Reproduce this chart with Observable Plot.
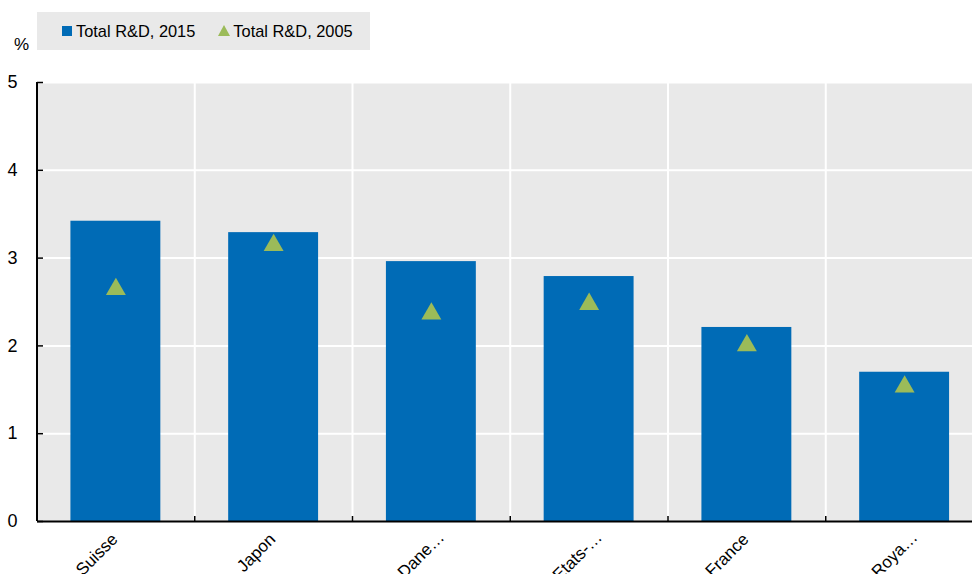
<!DOCTYPE html>
<html>
<head>
<meta charset="utf-8">
<script src="https://cdn.jsdelivr.net/npm/d3@7"></script>
<script src="https://cdn.jsdelivr.net/npm/@observablehq/plot@0.6"></script>
<style>
  html, body { margin: 0; padding: 0; background: #fff; }
  body { font-family: "Liberation Sans", Arial, sans-serif; }
  #wrap { position: relative; width: 972px; height: 574px; overflow: hidden; }
  #legend { position: absolute; left: 37px; top: 12px; width: 333px; height: 38px; background: #e9e9e9;
            display: flex; align-items: center; font-size: 16.4px; color: #000; }
  .item { display: flex; align-items: center; }
  .sq { width: 10px; height: 10px; background: #006bb6; margin-left: 25px; margin-right: 4px; }
  .tri { width: 0; height: 0; border-left: 6px solid transparent; border-right: 6px solid transparent;
         border-bottom: 11px solid #9bbb59; margin-left: 23px; margin-right: 3px; margin-top: -2px; }
  #pct { position: absolute; left: 14px; top: 35px; font-size: 17px; }
</style>
</head>
<body>
<div id="wrap">
  <div id="chart"></div>
  <div id="legend">
    <div class="item"><div class="sq"></div><span>Total R&amp;D, 2015</span></div>
    <div class="item"><div class="tri"></div><span>Total R&amp;D, 2005</span></div>
  </div>
  <div id="pct">%</div>
</div>
<script>
const countries = ["Suisse", "Japon", "Dane…", "Etats-…", "France", "Roya…"];
const rd2015 = [3.42, 3.29, 2.96, 2.79, 2.21, 1.70];
const rd2005 = [2.68, 3.18, 2.40, 2.51, 2.04, 1.57];
const yTicks = [0, 1, 2, 3, 4, 5];

const data = countries.map((c, i) => ({country: c, v2015: rd2015[i], v2005: rd2005[i]}));
const fullLabels = countries.filter(c => !c.endsWith("…"));
const truncLabels = countries.filter(c => c.endsWith("…"));

const W = 972, H = 574, mL = 37, mR = 0, mT = 82, mB = 53;
const xLeft = 36.5, xRight = 983; // category bands run past the right edge, as in the reference
const step = (xRight - xLeft) / countries.length;
const plotH = H - mT - mB;
const plotW = W - mL - mR;

const chart = Plot.plot({
  width: W, height: H,
  marginLeft: mL, marginRight: mR, marginTop: mT, marginBottom: mB,
  style: {fontFamily: "'Liberation Sans', Arial, sans-serif", fontSize: "16px", color: "#000", background: "transparent", overflow: "hidden"},
  x: {domain: countries, range: [xLeft, xRight], round: false, paddingInner: 0.43, paddingOuter: 0.215, label: null},
  y: {domain: [0, 5], label: null},
  marks: [
    Plot.frame({fill: "#e9e9e9", stroke: null}),
    Plot.gridY(yTicks.slice(1), {stroke: "#fff", strokeOpacity: 1, strokeWidth: 2}),
    Plot.ruleX(countries.slice(1), {dx: -step / 2, stroke: "#fff", strokeWidth: 2}),
    Plot.barY(data, {x: "country", y: "v2015", fill: "#006bb6"}),
    Plot.dot(data, {x: "country", y: "v2005", symbol: "triangle", r: 7.4, fill: "#9bbb59", stroke: null, dy: 3}),
    Plot.ruleX(countries.slice(1), {dx: -step / 2, stroke: "#000", strokeWidth: 1.5, insetTop: plotH - 5}),
    Plot.ruleY(yTicks, {stroke: "#000", strokeWidth: 1.5, insetRight: plotW - 6}),
    Plot.ruleY([0], {stroke: "#000", strokeWidth: 2}),
    Plot.ruleX([countries[0]], {dx: -step / 2, stroke: "#000", strokeWidth: 2}),
    Plot.axisY({ticks: yTicks, tickSize: 0, tickPadding: 20, fontSize: 18, tickFormat: d => d}),
    Plot.axisX({ticks: fullLabels, tickSize: 0, tickRotate: -45, tickPadding: 15, dx: -1, fontSize: 17}),
    Plot.axisX({ticks: truncLabels, tickSize: 0, tickRotate: -45, tickPadding: 13, dx: 10, fontSize: 17})
  ]
});
document.getElementById("chart").appendChild(chart);
</script>
</body>
</html>
